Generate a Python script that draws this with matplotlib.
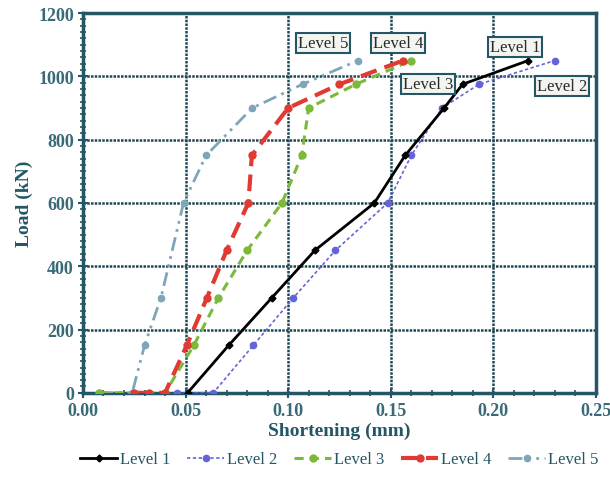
import matplotlib
matplotlib.use("Agg")
import matplotlib.pyplot as plt
from matplotlib.ticker import MultipleLocator

plt.rcParams['font.family'] = ['Liberation Serif', 'DejaVu Serif']

lvl1_x = [0.051, 0.071, 0.092, 0.113, 0.142, 0.157, 0.176, 0.185, 0.217]
lvl1_y = [0, 150, 300, 450, 600, 750, 900, 975, 1050]
lvl2_x = [0.046, 0.0635, 0.083, 0.1025, 0.123, 0.1485, 0.160, 0.175, 0.193, 0.230]
lvl2_y = [0, 0, 150, 300, 450, 600, 750, 900, 975, 1050]
lvl3_x = [0.008, 0.040, 0.054, 0.066, 0.080, 0.097, 0.1066, 0.110, 0.133, 0.160]
lvl3_y = [0, 0, 150, 300, 450, 600, 750, 900, 975, 1050]
lvl4_x = [0.025, 0.032, 0.040, 0.0506, 0.0604, 0.070, 0.0806, 0.0823, 0.100, 0.125, 0.156]
lvl4_y = [0, 0, 0, 150, 300, 450, 600, 750, 900, 975, 1050]
lvl5_x = [0.008, 0.024, 0.030, 0.038, 0.049, 0.060, 0.0825, 0.107, 0.134]
lvl5_y = [0, 0, 150, 300, 600, 750, 900, 975, 1050]

labels = ["Level 1", "Level 2", "Level 3", "Level 4", "Level 5"]
label_pos = {"Level 5": (0.117, 1106), "Level 4": (0.1535, 1106),
             "Level 1": (0.2105, 1093), "Level 3": (0.168, 976),
             "Level 2": (0.2336, 970)}

fig = plt.figure(figsize=(6.1, 4.85), dpi=100)
ax = fig.add_axes([0.136, 0.188, 0.841, 0.783])

tc = '#245766'
ax.plot(lvl1_x, lvl1_y, color='black', lw=2.0, ls='-', marker='D', ms=3.5, label=labels[0], zorder=6)
ax.plot(lvl2_x, lvl2_y, color='#6464d8', lw=1.2, ls=(0, (2, 1.5)), marker='o', ms=4.5, label=labels[1], zorder=5)
ax.plot(lvl3_x, lvl3_y, color='#7cb83a', lw=2.2, ls=(0, (3, 2)), marker='o', ms=5, label=labels[2], zorder=4)
ax.plot(lvl4_x, lvl4_y, color='#e03a32', lw=3.0, ls=(0, (4, 2)), marker='o', ms=5, label=labels[3], zorder=4)
ax.plot(lvl5_x, lvl5_y, color='#7fa6b8', lw=2.0, ls=(0, (5, 2, 1, 2, 1, 2)), marker='o', ms=4.5, label=labels[4], zorder=3)

for name, (x, y) in label_pos.items():
    ax.text(x, y, name, fontsize=12, ha='center', va='center', color='#2a2a2a', zorder=8,
            bbox=dict(boxstyle='square,pad=0.12', fc='#f4f4f0', ec=tc, lw=1.5))

ax.set_xlim(0, 0.25)
ax.set_ylim(0, 1200)
ax.xaxis.set_major_locator(MultipleLocator(0.05))
ax.xaxis.set_minor_locator(MultipleLocator(0.01))
ax.yaxis.set_major_locator(MultipleLocator(200))
ax.yaxis.set_minor_locator(MultipleLocator(20))
ax.xaxis.set_major_formatter(plt.FuncFormatter(lambda v, p: f"{v:.2f}"))
ax.yaxis.set_major_formatter(plt.FuncFormatter(lambda v, p: f"{int(round(v))}"))

ax.grid(True, which='major', color='#1c4654', lw=1.8, ls=(0, (1, 0.5)))
ax.set_axisbelow(True)
for s in ax.spines.values():
    s.set_color(tc)
    s.set_linewidth(2.5)
ax.tick_params(which='major', direction='inout', length=7, width=1.5, color=tc,
               labelsize=13, labelcolor='#3a6a78', pad=3)
ax.tick_params(which='minor', direction='inout', length=4, width=1.2, color=tc)
for t in ax.get_xticklabels() + ax.get_yticklabels():
    t.set_fontweight('bold')

ax.set_xlabel("Shortening (mm)", fontsize=14, fontweight='bold', color=tc, labelpad=2)
ax.set_ylabel("Load (kN)", fontsize=14, fontweight='bold', color=tc, labelpad=4)

ax.legend(loc='upper center', bbox_to_anchor=(0.5, -0.115), ncol=5, frameon=False,
          fontsize=12, handlelength=2.2, columnspacing=1.0, handletextpad=0.2,
          labelcolor=tc)

fig.savefig("out.png", dpi=100)
